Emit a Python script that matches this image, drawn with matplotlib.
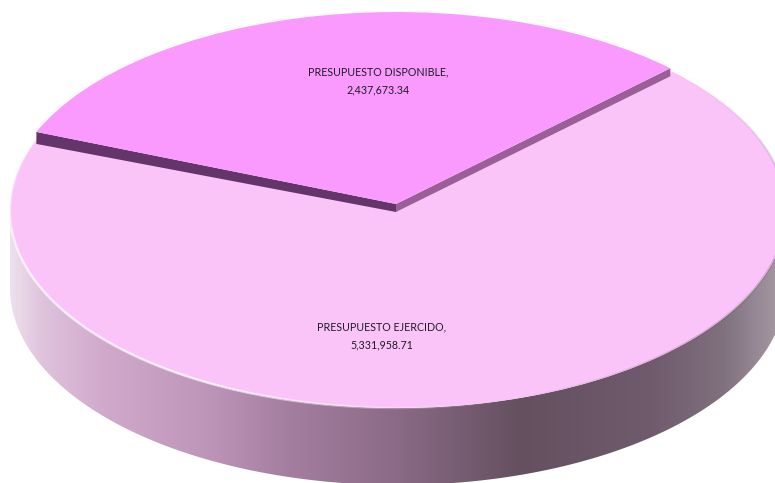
import numpy as np
import matplotlib
matplotlib.use("Agg")
import matplotlib.pyplot as plt
from matplotlib.colors import LinearSegmentedColormap
from matplotlib.patches import Polygon
from matplotlib.transforms import Affine2D

labels = ["PRESUPUESTO DISPONIBLE", "PRESUPUESTO EJERCIDO"]
values = [2437673.34, 5331958.71]
colors = ["#fb9afe", "#fac4f8"]

# disc geometry in pixels
W, H = 775, 483
CX, CY, RX, RY = 398, 211, 388, 197
WALL = 77
LIFT_X, LIFT_Y, LIFT_RY, LIFT_DEPTH = -2, 7, 192, 8
START = 45

wall_stops = [(0.0, "#ece0ec"), (0.04, "#dfc3dc"), (0.12, "#d0a9cb"), (0.25, "#bd96b9"),
              (0.36, "#a47e9f"), (0.5, "#8a6a86"), (0.66, "#64505f"), (0.83, "#6f5b6d"),
              (0.92, "#80707e"), (1.0, "#a89ca6")]

fig = plt.figure(figsize=(W / 100, H / 100), dpi=100)
ax = fig.add_axes([0, 0, 1, 1])


def px(x, y):
    return (x - CX) / RX, (CY - y) / RY


# side wall
t = np.linspace(np.pi, 2 * np.pi, 300)
outer = np.c_[np.cos(t), np.sin(t)]
lower = outer + [0, -WALL / RY]
wall = Polygon(np.r_[outer, lower[::-1]], closed=True, fc="none", ec="none", transform=ax.transData)
ax.add_patch(wall)
cmap = LinearSegmentedColormap.from_list("wall", [(p, c) for p, c in wall_stops])
grad = ax.imshow(np.linspace(0, 1, 512)[None, :], cmap=cmap, extent=[-1, 1, -2, 1], aspect="auto", zorder=1)
grad.set_clip_path(wall)

# light slice
w_low, _ = ax.pie(values, colors=colors, startangle=START, radius=1, wedgeprops={"linewidth": 0, "zorder": 3})
w_low[0].set_visible(False)

# raised slice
frac = values[0] / sum(values)
a0 = np.radians(START)
a1 = np.radians(START + 360 * frac)
lift = Affine2D().scale(1, LIFT_RY / RY).translate(LIFT_X / RX, LIFT_Y / RY) + ax.transData
w_high, _ = ax.pie(values, colors=colors, startangle=START, radius=1, wedgeprops={"linewidth": 0, "zorder": 6})
w_high[1].set_visible(False)
w_high[0].set_transform(lift)

# cut faces of the raised slice
cx, cy = LIFT_X / RX, LIFT_Y / RY
sy = LIFT_RY / RY
d = LIFT_DEPTH / RY
for a, col, extra in [(a0, "#9b5f98", 0), (a1, "#63356a", 4 / RY)]:
    ex, ey = cx + np.cos(a), cy + sy * np.sin(a)
    ax.add_patch(Polygon([(cx, cy), (ex, ey), (ex, ey - d - extra), (cx, cy - d)], fc=col, ec="none", zorder=5))

# soft rim of the light face
rim = np.radians(np.linspace(START + 360 * frac, START + 360, 400))
for i in range(len(rim) - 1):
    deg = np.degrees(rim[i]) % 360
    seg = rim[i:i + 2]
    if 150 < deg < 285:
        c, alpha = "#ffffff", min(1, min(deg - 150, 285 - deg) / 45) * 0.7
    elif 285 <= deg < 360:
        c, alpha = "#6a5468", min(1, (deg - 285) / 30) * 0.22
    elif deg < 45:
        c, alpha = "#6a5468", (1 - deg / 45) * 0.22
    else:
        continue
    ax.plot(np.cos(seg), np.sin(seg), color=c, alpha=alpha, lw=1.8, solid_capstyle="butt", zorder=4)

ax.text(*px(378, 81), f"{labels[0]},\n{values[0]:,.2f}", ha="center", va="center", fontsize=7.7,
        color="#1c1c24", linespacing=1.75, zorder=8, family="Lato")
ax.text(*px(382, 336), f"{labels[1]},\n{values[1]:,.2f}", ha="center", va="center", fontsize=7.7,
        color="#1c1c24", linespacing=1.75, zorder=8, family="Lato")

ax.set_aspect("auto")
ax.set_xlim((0 - CX) / RX, (W - CX) / RX)
ax.set_ylim((CY - H) / RY, CY / RY)
ax.axis("off")

fig.savefig("out.png", dpi=100, facecolor="white")
